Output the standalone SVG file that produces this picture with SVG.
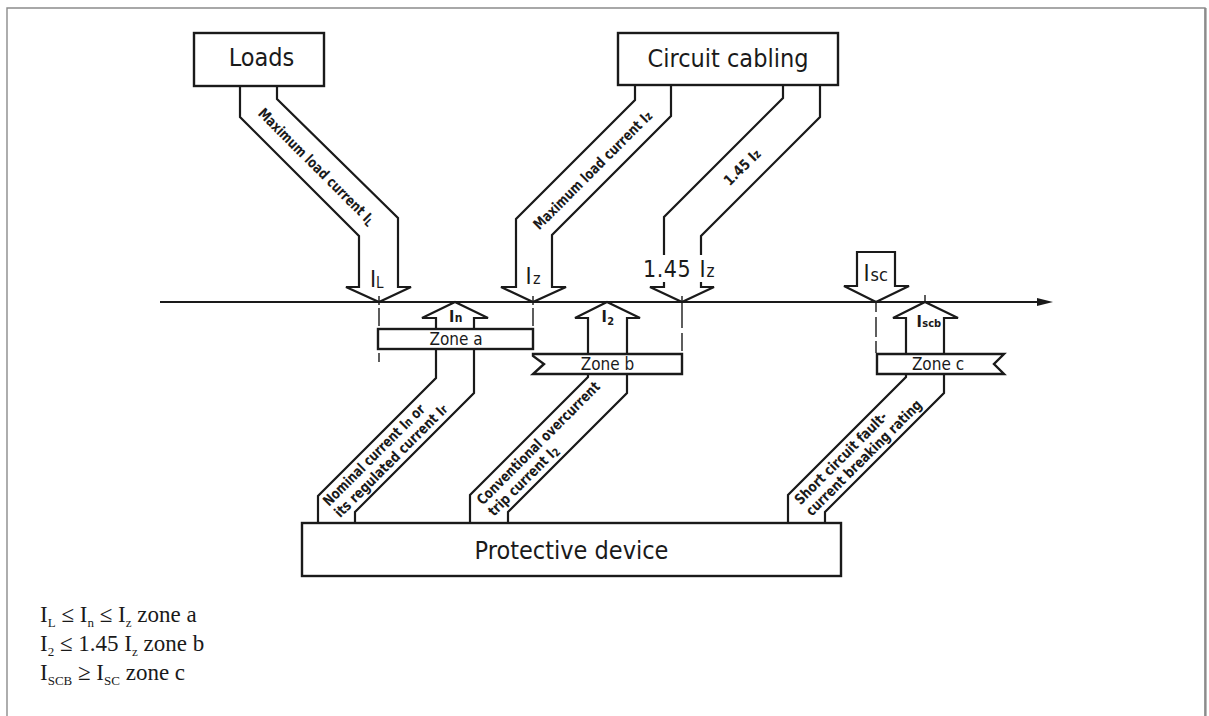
<svg xmlns="http://www.w3.org/2000/svg" width="1209" height="716" viewBox="0 0 1209 716">
  <style>
    .ln { fill: none; stroke: #1a1a1a; stroke-width: 2.2; stroke-linejoin: miter; }
    .box { fill: #ffffff; stroke: #1a1a1a; stroke-width: 2.4; }
    .cl { fill: none; stroke: #1a1a1a; stroke-width: 1.4; }
    .t { font-family: 'DejaVu Sans Condensed', 'DejaVu Sans', sans-serif; font-stretch: condensed; fill: #1a1a1a; }
    .big { font-size: 25px; font-weight: 300; }
    .mid { font-size: 23px; font-weight: 300; }
    .band { font-size: 14.5px; font-weight: bold; }
    .zone { font-size: 17px; }
    .sm { font-size: 16px; font-weight: bold; }
    .eq { font-family: 'Liberation Serif', 'Times New Roman', serif; font-size: 23px; fill: #1a1a1a; }
    .sb { font-size: 13px; }
  </style>

  <rect x="0" y="0" width="1209" height="716" fill="#ffffff"/>

  <!-- page frame -->
  <path d="M7,720 V8 H1205 V720" fill="none" stroke="#8c8c8c" stroke-width="1.4"/>
  <line x1="1205.5" y1="8" x2="1205.5" y2="720" stroke="#8c8c8c" stroke-width="2.2"/>

  <!-- current axis, centre lines and current arrows -->
  <g id="connectors">
    <path class="ln" d="M160,302 H1040"/>
    <polygon points="1037,298 1053,302 1037,306" fill="#1a1a1a"/>

    <!-- centre lines marking the current values -->
    <path class="cl" d="M379,296 V305 M379,308 V326 M379,353 V362"/>
    <path class="cl" d="M533,296 V305 M533,308 V326"/>
    <path class="cl" d="M682,296 V328 M682,333 V351"/>
    <path class="cl" d="M876,302 V312 M876,317 V337 M876,341 V353"/>
    <path class="cl" d="M925,295 V302"/>

    <!-- loads: maximum load current IL -->
    <g id="arrow-il">
      <path class="ln" d="M240,86 V117 L359,236 V287 H346 L379,302 L411,287 H398 V218 L277,99 V86"/>
      <text class="t band" transform="translate(316.75,166.5) rotate(45)" text-anchor="middle" y="5.2" textLength="158" lengthAdjust="spacingAndGlyphs">Maximum load current I<tspan font-size="11" dy="2">L</tspan></text>
      <text class="t mid" x="370" y="287">I<tspan font-size="15" dy="1">L</tspan></text>
    </g>

    <!-- circuit cabling: maximum load current Iz -->
    <g id="arrow-iz">
      <path class="ln" d="M635,85 V100 L516,219 V287 H501 L533,302 L566,287 H552 V235 L671,116 V85"/>
      <text class="t band" transform="translate(592.5,170) rotate(-45)" text-anchor="middle" y="5.2" textLength="161" lengthAdjust="spacingAndGlyphs">Maximum load current I<tspan font-size="12">z</tspan></text>
      <text class="t mid" x="525.5" y="284">I<tspan font-size="16" dx="1.5">z</tspan></text>
    </g>

    <!-- circuit cabling: 1.45 Iz -->
    <g id="arrow-145iz">
      <path class="ln" d="M783,85 V98 L664,217 V255 M664,282 V287 H650 L682,302 L714,287 H701 V282 M701,255 V236 L820,117 V85"/>
      <text class="t band" transform="translate(742,167) rotate(-45)" text-anchor="middle" y="5.2" textLength="45" lengthAdjust="spacingAndGlyphs">1.45 I<tspan font-size="12">z</tspan></text>
      <text class="t mid" x="643" y="277" letter-spacing="0.5">1.45</text>
      <text class="t mid" x="699.5" y="277">I<tspan font-size="17" dx="1">z</tspan></text>
    </g>

    <!-- short circuit current Isc -->
    <g id="arrow-isc">
      <path class="ln" d="M857,252 H895 V286 H909 L876,302 L844,286 H857 Z"/>
      <text class="t mid" x="863.5" y="281">I<tspan font-size="18" dx="1">sc</tspan></text>
    </g>

    <!-- protective device: nominal current In -->
    <g id="arrow-in">
      <path class="ln" d="M436,329 V318 H422 L455,302 L488,318 H474 V329"/>
      <path class="ln" d="M436,349 V378 L318,496 V523 M474,349 V393 L355,512 V523"/>
      <text class="t sm" x="449" y="322">I<tspan font-size="12" dx="0.5">n</tspan></text>
      <g class="t band" transform="translate(331,509) rotate(-45)">
        <text x="0" y="-2.8" textLength="137" lengthAdjust="spacingAndGlyphs">Nominal current I<tspan font-size="12">n</tspan> or</text>
        <text x="0" y="13.2" textLength="153" lengthAdjust="spacingAndGlyphs">its regulated current I<tspan font-size="12">r</tspan></text>
      </g>
    </g>

    <!-- protective device: conventional trip current I2 -->
    <g id="arrow-i2">
      <path class="ln" d="M588,354 V318 H575 L607,302 L640,318 H627 V354"/>
      <path class="ln" d="M588,374 V377 L470,495 V523 M627,374 V393 L508,512 V523"/>
      <text class="t sm" x="601.5" y="322">I<tspan font-size="11" dy="3" dx="0.5">2</tspan></text>
      <g class="t band" transform="translate(484.75,507.75) rotate(-45)">
        <text x="0" y="-2.8" textLength="167" lengthAdjust="spacingAndGlyphs">Conventional overcurrent</text>
        <text x="0" y="13.2" textLength="93" lengthAdjust="spacingAndGlyphs">trip current I<tspan font-size="11" dy="2">2</tspan></text>
      </g>
    </g>

    <!-- protective device: short circuit breaking capacity Iscb -->
    <g id="arrow-iscb">
      <path class="ln" d="M906,353 V318 H893 L925,302 L958,318 H944 V353"/>
      <path class="ln" d="M906,374 V377 L788,495 V523 M944,374 V393 L825,512 V523"/>
      <text class="t sm" x="916.5" y="327">I<tspan font-size="11" dx="0.5">scb</tspan></text>
      <g class="t band" transform="translate(802.5,507.5) rotate(-45)">
        <text x="0" y="-2.8" textLength="124" lengthAdjust="spacingAndGlyphs">Short circuit fault-</text>
        <text x="0" y="13.2" textLength="157" lengthAdjust="spacingAndGlyphs">current breaking rating</text>
      </g>
    </g>
  </g>

  <!-- blocks -->
  <g id="loads">
    <rect class="box" x="194" y="33" width="130" height="53"/>
    <text class="t big" x="261.5" y="66" text-anchor="middle">Loads</text>
  </g>

  <g id="circuit-cabling">
    <rect class="box" x="618" y="33" width="220" height="52"/>
    <text class="t big" x="728" y="67" text-anchor="middle">Circuit cabling</text>
  </g>

  <g id="protective-device">
    <rect class="box" x="302" y="523" width="539" height="53"/>
    <text class="t big" x="571.5" y="558.5" text-anchor="middle">Protective device</text>
  </g>

  <g id="zone-a">
    <rect class="box" x="378" y="329" width="155" height="20"/>
    <text class="t zone" x="456" y="345" text-anchor="middle">Zone a</text>
  </g>

  <g id="zone-b">
    <path class="box" d="M533,354 H682 V374 H533 L544,364 L533,356 Z"/>
    <text class="t zone" x="607.5" y="370" text-anchor="middle">Zone b</text>
  </g>

  <g id="zone-c">
    <path class="box" d="M877,354 H1004 L994,364 L1004,374 H877 Z"/>
    <text class="t zone" x="938" y="370" text-anchor="middle">Zone c</text>
  </g>

  <!-- coordination conditions -->
  <g id="conditions">
    <text class="eq" x="40" y="622">I<tspan class="sb" dy="5">L</tspan><tspan dy="-5"> ≤ I</tspan><tspan class="sb" dy="5">n</tspan><tspan dy="-5"> ≤ I</tspan><tspan class="sb" dy="5">z</tspan><tspan dy="-5"> zone a</tspan></text>
    <text class="eq" x="40" y="651">I<tspan class="sb" dy="5">2</tspan><tspan dy="-5"> ≤ 1.45 I</tspan><tspan class="sb" dy="5">z</tspan><tspan dy="-5"> zone b</tspan></text>
    <text class="eq" x="40" y="680">I<tspan class="sb" dy="5">SCB</tspan><tspan dy="-5"> ≥ I</tspan><tspan class="sb" dy="5">SC</tspan><tspan dy="-5"> zone c</tspan></text>
  </g>
</svg>
